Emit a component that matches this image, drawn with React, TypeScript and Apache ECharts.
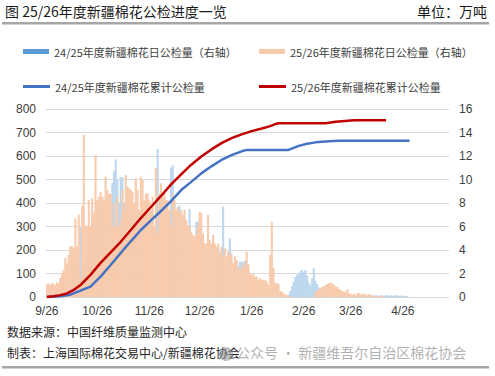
import React, { useEffect, useRef } from "react";
import * as echarts from "echarts";

// x-axis: daily categories starting 9/26, 240 days
const startDate = { y: 2025, m: 9, d: 26 };
const dayCount = 240;
const tickLabels = ["9/26", "10/26", "11/26", "12/26", "1/26", "2/26", "3/26", "4/26"];

// 24/25 daily inspected volume (万吨, right axis), from 9/26
const daily2425 = [
  0.2, 0.3, 0.3, 0.4, 0.4, 0.5, 0.5, 0.6, 0.8, 1.0,
  1.1, 1.2, 1.3, 1.5, 2.0, 2.4, 2.6, 2.8, 3.0, 3.2,
  6.0, 2.6, 2.8, 3.0, 3.2, 3.4, 5.5, 6.5, 7.0, 7.5,
  8.0, 8.2, 8.0, 8.5, 8.2, 8.0, 8.4, 8.6, 8.5, 9.7,
  10.7, 11.7, 10.0, 8.0, 10.2, 10.2, 8.0, 8.0, 7.5, 8.0,
  7.0, 7.5, 7.2, 6.8, 7.0, 7.2, 7.0, 6.5, 7.0, 7.2,
  6.8, 7.0, 6.5, 7.0, 5.8, 6.8, 12.6, 7.0, 6.8, 7.2,
  7.0, 7.5, 7.0, 7.2, 11.0, 11.2, 8.0, 7.0, 7.5, 7.8,
  7.0, 6.0, 5.8, 5.5, 5.5, 7.5, 5.0, 5.2, 5.0, 6.4,
  6.4, 5.5, 5.0, 4.5, 4.0, 4.2, 4.8, 4.5, 4.0, 4.6,
  4.3, 4.0, 4.4, 3.8, 4.0, 7.7, 2.4, 2.2, 2.0, 5.0,
  2.0, 2.2, 2.0, 3.1, 2.6, 3.0, 3.0, 3.0, 3.1, 3.0,
  2.5, 0, 0, 0, 0, 0, 0, 0, 0, 0,
  0, 0, 0, 0, 0, 0, 0, 0, 0, 0,
  0, 0, 0, 0, 0.2, 0.5, 0.9, 1.3, 1.7, 1.9,
  2.0, 2.2, 2.3, 2.1, 2.3, 1.8, 1.2, 1.0, 1.6, 2.45,
  1.4, 1.1, 0.8, 0.7, 0.8, 0.6, 0.5, 0.4, 0.35, 0.3,
  0.25, 0.2, 0.2, 0.15, 0.15, 0.1, 0.1, 0.1, 0.1, 0.1,
  0.1, 0.05, 0.1, 0.08, 0.1, 0.05, 0.1, 0.1, 0.08, 0.1,
  0.1, 0.12, 0.1, 0.15, 0.12, 0.1, 0.15, 0.1, 0.12, 0.15,
  0.12, 0.1, 0.15, 0.15, 0.12, 0.15, 0.1, 0.12, 0.15, 0.12,
  0.1, 0.12, 0.1, 0.08, 0.1, 0.05,
];

// 25/26 daily inspected volume (万吨, right axis), from 9/26
const daily2526 = [
  1.1, 1.16, 1.04, 1.2, 1.1, 1.0, 1.24, 1.16, 1.6, 2.0,
  2.3, 3.3, 2.86, 3.6, 4.3, 4.34, 4.14, 6.7, 4.3, 7.0,
  1.6, 7.74, 13.8, 6.12, 6.0, 8.24, 6.0, 8.4, 7.12, 12.08,
  8.24, 8.54, 8.96, 8.54, 8.24, 10.24, 9.1, 8.8, 8.8, 6.0,
  8.0, 6.0, 8.54, 6.0, 6.56, 9.1, 7.4, 10.38, 9.4, 9.24,
  9.1, 8.96, 8.0, 10.1, 9.1, 7.4, 10.24, 9.96, 8.24, 8.8,
  8.8, 8.24, 7.4, 8.54, 6.0, 10.96, 5.4, 8.8, 9.68, 8.54,
  8.8, 8.24, 8.24, 7.4, 6.0, 8.8, 8.24, 7.4, 7.68, 7.12,
  7.4, 7.0, 7.4, 6.56, 6.12, 6.0, 5.56, 5.28, 5.14, 5.4,
  6.12, 7.26, 7.12, 5.4, 4.56, 4.56, 6.98, 4.84, 4.56, 5.28,
  4.56, 4.28, 4.56, 3.72, 4.28, 3.44, 4.14, 3.44, 3.86, 3.44,
  3.72, 2.86, 3.44, 3.14, 2.3, 2.58, 2.3, 2.86, 2.58, 3.86,
  2.8, 2.0, 1.88, 2.0, 1.72, 1.72, 1.44, 1.6, 1.44, 1.5,
  1.44, 1.3, 1.02, 3.6, 6.4, 2.44, 1.2, 1.16, 1.1, 0.5,
  0.44, 0.3, 0.2, 0.16, 0.1, 0, 0, 0, 0, 0,
  0, 0, 0, 0, 0, 0, 0, 0, 0, 0,
  0.45, 0.55, 0.65, 0.75, 0.88, 0.9, 1.0, 1.1, 1.16, 1.22,
  1.15, 1.05, 0.9, 0.85, 0.7, 0.6, 0.5, 0.45, 0.4, 0.65,
  0.3, 0.25, 0.2, 0.3, 0.15, 0.3, 0.35, 0.2, 0.25, 0.3,
  0.15, 0.2, 0.25, 0.1, 0.12, 0.1, 0.08, 0.1, 0.08, 0.06,
  0.08, 0.05,
];

// cumulative (万吨, left axis): day index and value read at points
const cum2425Day = [0, 8, 14, 20, 26, 32, 38, 44, 50, 56, 62, 68, 74, 80, 86, 92, 98, 104, 110, 116, 119, 144, 150, 155, 160, 168, 174, 216];
const cum2425Val = [0, 3, 10, 27, 44, 87, 136, 187, 237, 285, 326, 366, 408, 455, 490, 526, 556, 583, 604, 620, 626, 626, 643, 652, 658, 663, 665, 665];
const cum2526Day = [0, 4, 8, 12, 16, 20, 26, 32, 38, 44, 50, 56, 62, 68, 74, 80, 86, 92, 98, 104, 110, 116, 122, 128, 133, 136, 138, 166, 172, 183, 202];
const cum2526Val = [0, 3, 8, 15, 30, 51, 94, 145, 190, 235, 285, 336, 383, 430, 479, 522, 563, 598, 628, 655, 676, 692, 706, 717, 727, 736, 739, 739, 746, 752, 752];

const names = {
  bar2425: "24/25年度新疆棉花日公检量（右轴）",
  bar2526: "25/26年度新疆棉花日公检量（右轴）",
  line2425: "24/25年度新疆棉花累计公检量",
  line2526: "25/26年度新疆棉花累计公检量",
};

function buildCategories(): string[] {
  const out: string[] = [];
  const base = new Date(startDate.y, startDate.m - 1, startDate.d);
  for (let i = 0; i < dayCount; i++) {
    const dt = new Date(base.getTime());
    dt.setDate(base.getDate() + i);
    out.push(`${dt.getMonth() + 1}/${dt.getDate()}`);
  }
  return out;
}

const FONT = "'Liberation Sans', 'Noto Sans CJK SC', sans-serif";
const CJK = "'Noto Sans CJK SC', 'Liberation Sans', sans-serif";

export default function App() {
  const ref = useRef<HTMLDivElement>(null);
  useEffect(() => {
    if (!ref.current) return;
    const chart = echarts.init(ref.current, undefined, { renderer: "svg" });
    const categories = buildCategories();
    const legendText = { fontSize: 11, color: "#404040", fontFamily: CJK };
    const option: any = {
      animation: false,
      backgroundColor: "#ffffff",
      grid: { left: 46, right: 46, top: 109, bottom: 79 },
      legend: [
        {
          left: 18, top: 41, itemWidth: 26, itemHeight: 5, itemGap: 0,
          textStyle: legendText, selectedMode: false,
          data: [{ name: names.bar2425, icon: "rect", itemStyle: { color: "#5b9bd5" } }],
        },
        {
          left: 254, top: 41, itemWidth: 26, itemHeight: 5, itemGap: 0,
          textStyle: legendText, selectedMode: false,
          data: [{ name: names.bar2526, icon: "rect", itemStyle: { color: "#f8cbad" } }],
        },
        {
          left: 18, top: 76, itemWidth: 27, itemHeight: 3, itemGap: 0,
          textStyle: legendText, selectedMode: false,
          data: [{ name: names.line2425, icon: "rect", itemStyle: { color: "#4472c4" } }],
        },
        {
          left: 254, top: 76, itemWidth: 27, itemHeight: 3, itemGap: 0,
          textStyle: legendText, selectedMode: false,
          data: [{ name: names.line2526, icon: "rect", itemStyle: { color: "#c00000" } }],
        },
      ],
      xAxis: {
        type: "category",
        data: categories,
        boundaryGap: true,
        axisLine: { show: false },
        axisTick: { show: false },
        axisLabel: {
          interval: (_i: number, v: string) => tickLabels.includes(v),
          color: "#404040",
          fontSize: 12,
          fontFamily: FONT,
          margin: 8,
        },
        splitLine: { show: false },
      },
      yAxis: [
        {
          type: "value", min: 0, max: 800, interval: 100,
          axisLine: { show: false }, axisTick: { show: false },
          axisLabel: { color: "#404040", fontSize: 12, fontFamily: FONT, margin: 10 },
          splitLine: { lineStyle: { color: "#d9d9d9", width: 1 } },
        },
        {
          type: "value", min: 0, max: 16, interval: 2,
          axisLine: { show: false }, axisTick: { show: false },
          axisLabel: { color: "#404040", fontSize: 12, fontFamily: FONT, margin: 10 },
          splitLine: { show: false },
        },
      ],
      series: [
        {
          name: names.bar2425, type: "bar", yAxisIndex: 1,
          data: daily2425, barGap: "-100%", barWidth: 2.1,
          itemStyle: { color: "#bdd7ee" },
        },
        {
          name: names.bar2526, type: "bar", yAxisIndex: 1,
          data: daily2526, barGap: "-100%", barWidth: 2.1,
          itemStyle: { color: "#f8cbad" },
        },
        {
          name: names.line2425, type: "line", yAxisIndex: 0,
          data: cum2425Day.map((d, i) => [d, cum2425Val[i]]),
          showSymbol: false, symbol: "none",
          lineStyle: { color: "#4472c4", width: 2.5 },
          itemStyle: { color: "#4472c4" },
        },
        {
          name: names.line2526, type: "line", yAxisIndex: 0,
          data: cum2526Day.map((d, i) => [d, cum2526Val[i]]),
          showSymbol: false, symbol: "none",
          lineStyle: { color: "#c00000", width: 2.5 },
          itemStyle: { color: "#c00000" },
        },
      ],
      graphic: [
        {
          type: "text", left: 5, top: 4,
          style: { text: "图 25/26年度新疆棉花公检进度一览", font: `14px ${CJK}`, fill: "#1a1a1a" },
        },
        {
          type: "text", right: 8, top: 4,
          style: { text: "单位：万吨", font: `14px ${CJK}`, fill: "#1a1a1a" },
        },
        {
          type: "rect", shape: { x: 2, y: 22, width: 487, height: 2.5 },
          style: { fill: "#a6a6a6" },
        },
        {
          type: "text", left: 7, top: 325,
          style: { text: "数据来源：中国纤维质量监测中心", font: `12px ${CJK}`, fill: "#262626" },
        },
        {
          type: "text", left: 7, top: 346,
          style: { text: "制表：上海国际棉花交易中心/新疆棉花协会", font: `12px ${CJK}`, fill: "#262626" },
        },
        {
          type: "circle", shape: { cx: 226, cy: 354, r: 7 },
          style: { fill: "rgba(140,140,140,0.55)" },
        },
        {
          type: "text", left: 236, top: 345,
          style: { text: "公众号 · 新疆维吾尔自治区棉花协会", font: `14px ${CJK}`, fill: "rgba(150,150,150,0.75)" },
        },
        {
          type: "rect", shape: { x: 2, y: 366, width: 487, height: 2.5 },
          style: { fill: "#a6a6a6" },
        },
      ],
    };
    chart.setOption(option);
    return () => chart.dispose();
  }, []);
  return (
    <div
      ref={ref}
      style={{ position: "fixed", left: 0, top: 0, width: 495, height: 376, background: "#fff" }}
    />
  );
}
